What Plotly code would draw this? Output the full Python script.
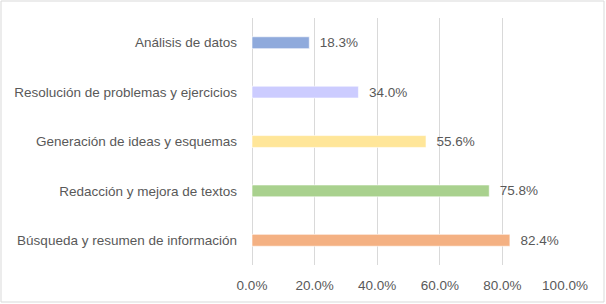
import plotly.graph_objects as go

categories = [
    "Búsqueda y resumen de información",
    "Redacción y mejora de textos",
    "Generación de ideas y esquemas",
    "Resolución de problemas y ejercicios",
    "Análisis de datos",
]
values = [82.4, 75.8, 55.6, 34.0, 18.3]
colors = ["#F4B183", "#A9D18E", "#FFE699", "#CCCCFF", "#8FAADC"]
tick_vals = [0, 20, 40, 60, 80, 100]
tick_text = ["0.0%", "20.0%", "40.0%", "60.0%", "80.0%", "100.0%"]

W, H = 606, 304
L, R, T, B = 252, 41, 18, 39
pw, ph = W - L - R, H - T - B
FS = 13.5

fig = go.Figure(go.Bar(
    y=categories, x=values, orientation="h",
    marker=dict(color=colors, line=dict(color="rgba(255,255,255,0.6)", width=1)),
    width=0.24,
    text=[f"  {v:.1f}%" for v in values],
    textposition="outside",
    constraintext="none",
    textfont=dict(color="#595959", size=FS),
    cliponaxis=False,
    hoverinfo="skip",
))

fig.update_layout(
    width=W, height=H,
    margin=dict(l=L, r=R, t=T, b=B, pad=0, autoexpand=False),
    paper_bgcolor="white", plot_bgcolor="white",
    font=dict(family="Liberation Sans, Arial, sans-serif", size=FS, color="#595959"),
    showlegend=False,
    xaxis=dict(range=[0, 100], tickvals=tick_vals, ticktext=tick_text,
               showgrid=True, gridcolor="#D9D9D9", gridwidth=1,
               zeroline=True, zerolinecolor="#D9D9D9", zerolinewidth=1,
               showline=False, ticks="", ticklabelstandoff=10, automargin=False,
               tickfont=dict(size=FS, color="#595959")),
    yaxis=dict(showgrid=False, showline=False, ticks="", automargin=False,
               ticklabelstandoff=14, range=[-0.5, 4.5],
               tickfont=dict(size=FS, color="#595959")),
    shapes=[dict(type="rect", xref="paper", yref="paper",
                 x0=(1 - L) / pw, x1=(604 - L) / pw,
                 y0=(H - B - 302) / ph, y1=(H - B - 1) / ph,
                 line=dict(color="#D9D9D9", width=1), fillcolor="rgba(0,0,0,0)", layer="below")],
)

fig.write_html(
    "out.html",
    config={"displayModeBar": False, "staticPlot": True},
    post_script="document.body.style.margin='0';document.body.style.padding='0';document.body.style.overflow='hidden';",
)
